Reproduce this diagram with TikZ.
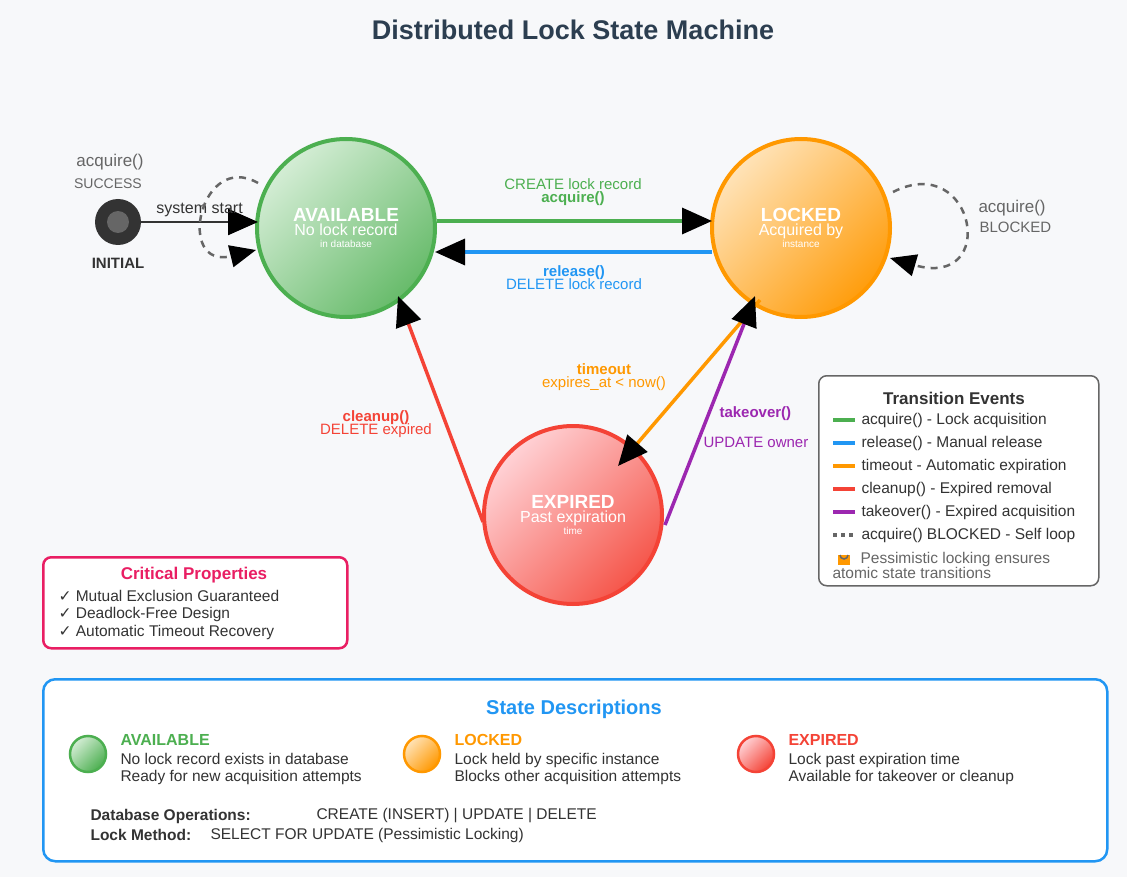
\documentclass[tikz,border=0pt]{standalone}
\usepackage{fontspec}
\setmainfont{Liberation Sans}
\newfontfamily\dejavu{DejaVu Sans}
\usetikzlibrary{arrows.meta}
\definecolor{cg}{HTML}{4CAF50}\definecolor{cgl}{HTML}{D4EDD5}
\definecolor{co}{HTML}{FF9800}\definecolor{col}{HTML}{FFE3B8}
\definecolor{cr}{HTML}{F44336}\definecolor{crl}{HTML}{FFD2D6}
\definecolor{cp}{HTML}{9C27B0}\definecolor{cb}{HTML}{2196F3}
\definecolor{cpk}{HTML}{E91E63}\definecolor{cd}{HTML}{333333}
\definecolor{cgr}{HTML}{666666}\definecolor{bg}{HTML}{F7F8FA}
\definecolor{tt}{HTML}{2C3E50}
\begin{document}
\begin{tikzpicture}[x=1pt,y=-1pt,
  fs/.style={font=\fontsize{#1}{#1}\selectfont},
  st/.style={circle,draw=#1,line width=4pt,minimum size=178pt,inner sep=0pt,text=white,align=center},
  tip/.style={-{Triangle[length=30pt,width=26pt,color=black]}},
  tr/.style={line width=3.5pt,#1},
  lbl/.style={align=center,fs=15},
  leg/.style={line width=4pt},
  sw/.style={circle,draw=#1,line width=2.5pt,minimum size=36pt,inner sep=0pt}]
\fill[bg] (0,0) rectangle (1127,877);
\useasboundingbox (0,0) rectangle (1127,877);
\node[fs=27,text=tt] (title) at (573,30) {\bfseries Distributed Lock State Machine};

\node[st=cg,shading=axis,top color=cgl,bottom color=cg!85,shading angle=45] (av) at (346,228) {\fontsize{19}{22}\selectfont\bfseries AVAILABLE\\[2pt]\fontsize{16}{18}\selectfont\mdseries No lock record\\in database};
\node[st=co,shading=axis,top color=col,bottom color=co!95,shading angle=45] (lk) at (801,228) {\fontsize{19}{22}\selectfont\bfseries LOCKED\\[2pt]\fontsize{16}{18}\selectfont\mdseries Acquired by\\instance};
\node[st=cr,shading=axis,top color=crl,bottom color=cr!90,shading angle=45] (ex) at (573,515) {\fontsize{19}{22}\selectfont\bfseries EXPIRED\\[2pt]\fontsize{16}{18}\selectfont\mdseries Past expiration\\time};

\node[circle,fill=cd,minimum size=46pt,inner sep=0pt] (ini) at (118,222) {};
\node[circle,fill=cgr,minimum size=22pt,inner sep=0pt] (inic) at (118,222) {};
\node[fs=15,text=cd] (inil) at (118,263) {\bfseries INITIAL};
\coordinate (avw) at (258,222);
\draw[line width=2.5pt,draw=cd,tip] (ini) -- (avw) node[midway,above=1pt,fs=16,text=cd] {system start};

% self loops
\coordinate (a1) at (258,183); \coordinate (a2) at (256,250);
\draw[line width=2.5pt,draw=cgr,dash pattern=on 7pt off 6pt,-{Triangle[length=26pt,width=22pt,color=black]}]
  (a1) .. controls (200,150) and (175,270) .. (a2);
\node[fs=17,text=cgr] (acq1) at (110,162) {acquire()};
\node[fs=14,text=cgr] (suc) at (108,184) {SUCCESS};
\coordinate (l1) at (893,192); \coordinate (l2) at (890,258);
\draw[line width=2.5pt,draw=cgr,dash pattern=on 7pt off 6pt,-{Triangle[length=26pt,width=22pt,color=black]}]
  (l1) .. controls (975,150) and (1000,290) .. (l2);
\node[fs=17,text=cgr,anchor=west] (acq2) at (975,208) {acquire()};
\node[fs=15,text=cgr,anchor=west] (blk) at (976,227) {BLOCKED};

% transitions
\coordinate (g1) at (437,221); \coordinate (g2) at (712,221);
\draw[tr=cg,tip] (g1) -- (g2);
\node[lbl,text=cg] (gl) at (573,192) {CREATE lock record\\[-2pt]\bfseries acquire()};
\coordinate (b1) at (712,252); \coordinate (b2) at (435,252);
\draw[tr=cb,tip] (b1) -- (b2);
\node[lbl,text=cb] (bl) at (574,278) {\bfseries release()\\[-2pt]\mdseries DELETE lock record};
\coordinate (r1) at (483,522); \coordinate (r2) at (398,296);
\draw[tr=cr,tip] (r1) -- (r2);
\node[lbl,text=cr] (rl) at (376,424) {\bfseries cleanup()\\[-2pt]\mdseries DELETE expired};
\coordinate (o1) at (760,300); \coordinate (o2) at (618,466);
\draw[tr=co,tip] (o1) -- (o2);
\node[lbl,text=co] (ol) at (604,377) {\bfseries timeout\\[-2pt]\mdseries expires\_at < now()};
\coordinate (p1) at (665,525); \coordinate (p2) at (755,296);
\draw[tr=cp,tip] (p1) -- (p2);
\node[lbl,text=cp,anchor=west] (pl1) at (716,414) {\bfseries takeover()};
\node[lbl,text=cp,anchor=west] (pl2) at (700,442) {UPDATE owner};

% legend
\node[draw=cgr,line width=1.5pt,rounded corners=8pt,fill=white,minimum width=280pt,minimum height=210pt,anchor=north west] (lg) at (818,375) {};
\node[fs=17,text=cd] (lgt) at (954,398) {\bfseries Transition Events};
\foreach \c/\t [count=\i] in {cg/acquire() - Lock acquisition,cb/release() - Manual release,co/timeout - Automatic expiration,cr/cleanup() - Expired removal,cp/takeover() - Expired acquisition}{
  \draw[leg,draw=\c] (833,397+23*\i) -- (855,397+23*\i);
  \node[fs=15.5,text=cd,anchor=west] at (858,397+23*\i) {\t};
}
\draw[leg,draw=cgr,dash pattern=on 4pt off 4pt] (833,535) -- (856,535);
\node[fs=15.5,text=cd,anchor=west] (lgb) at (858,535) {acquire() BLOCKED - Self loop};
\fill[co] (838,555) rectangle (850,565);
\draw[cgr,line width=1.5pt] (840,555) arc (180:0:4);
\node[fs=15.5,text=cgr,anchor=west] (lgn1) at (857,559) {Pessimistic locking ensures};
\node[fs=15.5,text=cgr,anchor=west] (lgn2) at (829,573) {atomic state transitions};

% critical properties
\node[draw=cpk,line width=2.5pt,rounded corners=8pt,fill=white,minimum width=304pt,minimum height=91pt,anchor=north west] (cp) at (42,556) {};
\node[fs=17,text=cpk] (cpt) at (194,575) {\bfseries Critical Properties};
\foreach \t [count=\i] in {Mutual Exclusion Guaranteed,Deadlock-Free Design,Automatic Timeout Recovery}
  \node[fs=15.5,text=cd,anchor=west] at (55,578+18*\i) {{\dejavu ✓} \t};

% state descriptions
\node[draw=cb,line width=2.5pt,rounded corners=12pt,fill=white,minimum width=1064pt,minimum height=182pt,anchor=north west] (sd) at (42,678) {};
\node[fs=20,text=cb] (sdt) at (574,709) {\bfseries State Descriptions};
\node[sw=cg,shading=axis,top color=cgl,bottom color=cg,shading angle=45] (s1) at (88,754) {};
\node[sw=co,shading=axis,top color=col,bottom color=co,shading angle=45] (s2) at (422,754) {};
\node[sw=cr,shading=axis,top color=crl,bottom color=cr,shading angle=45] (s3) at (756,754) {};
\node[fs=16,text=cg,anchor=west] (t1) at (117,740) {\bfseries AVAILABLE};
\node[fs=15.5,text=cd,anchor=west,align=left] (d1) at (117,769) {No lock record exists in database\\[1pt]Ready for new acquisition attempts};
\node[fs=16,text=co,anchor=west] (t2) at (451,740) {\bfseries LOCKED};
\node[fs=15.5,text=cd,anchor=west,align=left] (d2) at (451,769) {Lock held by specific instance\\[1pt]Blocks other acquisition attempts};
\node[fs=16,text=cr,anchor=west] (t3) at (785,740) {\bfseries EXPIRED};
\node[fs=15.5,text=cd,anchor=west,align=left] (d3) at (785,769) {Lock past expiration time\\[1pt]Available for takeover or cleanup};
\node[fs=15.5,text=cd,anchor=west] (o1l) at (87,816) {\bfseries Database Operations:};
\node[fs=15.5,text=cd,anchor=west] (o1v) at (313,816) {CREATE (INSERT) | UPDATE | DELETE};
\node[fs=15.5,text=cd,anchor=west] (o2l) at (87,835) {\bfseries Lock Method:};
\node[fs=15.5,text=cd,anchor=west] (o2v) at (207,835) {SELECT FOR UPDATE (Pessimistic Locking)};
\end{tikzpicture}
\end{document}
